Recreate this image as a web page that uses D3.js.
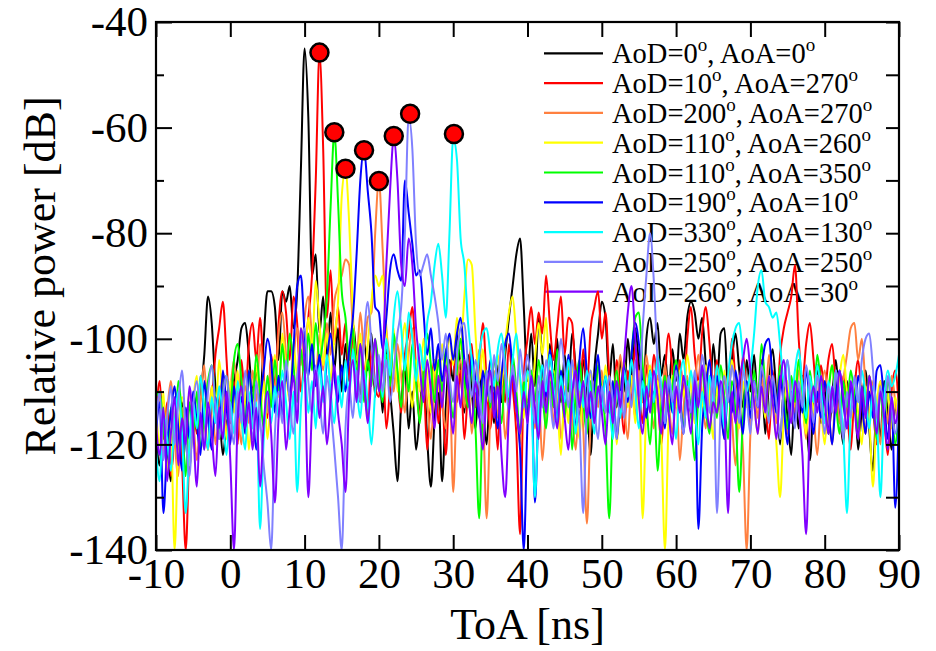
<!DOCTYPE html>
<html><head><meta charset="utf-8">
<script src="https://cdn.jsdelivr.net/npm/d3@7"></script>
<style>body{margin:0;background:#fff}svg{display:block}</style>
</head><body>
<svg id="chart" width="936" height="651"></svg>
<script>
// ---------- DATA ----------
const toaStart = -10, toaStep = 0.5;   // ToA sampling grid [ns]
const aodValues = [0, 10, 200, 110, 110, 190, 330, 250, 260];
const aoaValues = [0, 270, 270, 260, 350, 10, 130, 250, 30];
const seriesColors = ["#000000","#ff0000","#ff8040","#ffff00","#00ff00","#0000ff","#00ffff","#8080ff","#8000ff"];
const xTicks = [-10,0,10,20,30,40,50,60,70,80,90];
const yTicks = [-140,-120,-100,-80,-60,-40];
const yMinorTicks = [-130,-110,-90,-70,-50];

const pBlack = [
-118,-124,-113,-120,-127,-116,-121,-112,-119,-125,-115,-117,-111,-103,-92,-97,-109,-113,-122,-116,
-114,-108,-104,-98,-97,-103,-110,-106,-112,-100,-91,-91,-94,-104,-91,-93,-90,-98,-91,-68,
-45,-58,-88,-84,-99,-92,-104,-95,-106,-98,-110,-101,-108,-97,-104,-112,-100,-106,-99,-111,
-104,-114,-102,-110,-118,-127,-112,-105,-117,-110,-121,-114,-106,-119,-128,-115,-109,-127,-113,-104,
-108,-99,-106,-114,-103,-110,-117,-107,-113,-120,-109,-116,-105,-112,-103,-96,-90,-84,-81,-94,
-108,-99,-109,-96,-104,-113,-101,-108,-100,-112,-103,-110,-99,-106,-116,-104,-111,-122,-106,-99,
-93,-96,-108,-101,-113,-104,-110,-100,-107,-98,-105,-112,-100,-96,-101,-97,-107,-103,-110,-102,
-108,-99,-104,-96,-93,-95,-100,-96,-105,-112,-101,-108,-99,-98,-110,-104,-99,-106,-113,-104,
-110,-103,-112,-106,-118,-108,-102,-111,-120,-109,-115,-122,-110,-117,-107,-114,-123,-112,-105,-116,
-109,-118,-111,-104,-113,-120,-108,-115,-110,-121,-113,-106,-117,-125,-112,-119,-108,-114,-121,-113,
-116];
const pRed = [
-115,-108,-119,-112,-126,-117,-110,-123,-140,-121,-113,-118,-107,-115,-121,-112,-103,-98,-93,-104,
-116,-108,-120,-104,-112,-101,-97,-104,-96,-107,-115,-103,-109,-97,-91,-95,-104,-92,-97,-110,
-103,-96,-88,-70,-46,-64,-96,-87,-101,-94,-103,-97,-108,-99,-110,-101,-106,-115,-102,-109,
-111,-104,-117,-109,-100,-107,-114,-103,-99,-94,-106,-115,-108,-121,-110,-104,-116,-111,-122,-108,
-103,-112,-106,-119,-109,-101,-113,-105,-97,-108,-117,-110,-121,-106,-112,-101,-109,-118,-137,-107,
-100,-94,-101,-95,-99,-88,-97,-104,-98,-92,-103,-96,-97,-108,-112,-102,-109,-98,-94,-91,
-100,-95,-107,-114,-104,-110,-118,-106,-112,-101,-109,-116,-105,-111,-103,-110,-120,-107,-99,-106,
-113,-104,-110,-100,-94,-103,-108,-99,-94,-101,-110,-104,-115,-107,-112,-100,-108,-114,-103,-110,
-117,-108,-113,-104,-111,-119,-106,-113,-103,-98,-95,-92,-86,-100,-108,-101,-97,-104,-112,-105,
-110,-104,-101,-109,-116,-107,-113,-121,-110,-104,-112,-118,-107,-113,-120,-108,-115,-122,-110,-106,
-114];
const pOrange = [
-117,-111,-122,-114,-108,-119,-126,-113,-118,-110,-115,-123,-112,-105,-116,-109,-120,-113,-107,-118,
-110,-104,-113,-120,-109,-116,-106,-112,-101,-108,-114,-104,-110,-99,-95,-103,-112,-104,-98,-105,
-96,-92,-100,-108,-99,-106,-97,-103,-93,-90,-88,-85,-86,-98,-104,-95,-102,-96,-95,-80,
-70,-83,-98,-104,-110,-101,-107,-114,-103,-98,-108,-115,-106,-112,-119,-108,-102,-111,-117,-107,
-129,-110,-104,-113,-107,-118,-109,-102,-112,-134,-114,-106,-115,-108,-119,-111,-104,-113,-120,-110,
-112,-106,-117,-110,-123,-113,-107,-116,-108,-119,-112,-105,-114,-121,-110,-117,-135,-115,-108,-113,
-106,-114,-109,-118,-110,-103,-112,-119,-108,-115,-106,-112,-103,-110,-117,-107,-113,-105,-112,-118,
-110,-123,-113,-107,-115,-109,-103,-111,-117,-108,-114,-106,-112,-119,-109,-115,-124,-113,-121,-140,
-118,-109,-115,-107,-112,-103,-110,-116,-105,-112,-118,-108,-114,-106,-111,-119,-108,-114,-122,-111,
-106,-113,-120,-110,-116,-108,-103,-98,-97,-104,-100,-109,-115,-108,-113,-120,-110,-116,-107,-112,
-118];
const pYellow = [
-113,-120,-110,-126,-117,-140,-119,-111,-116,-124,-112,-107,-118,-113,-121,-109,-115,-104,-112,-119,
-108,-114,-106,-117,-110,-121,-112,-105,-115,-108,-119,-110,-103,-111,-99,-106,-112,-101,-107,-98,
-104,-96,-102,-89,-97,-105,-99,-108,-100,-93,-73,-68,-78,-95,-106,-99,-108,-101,-93,-88,
-90,-88,-99,-106,-98,-110,-103,-97,-106,-113,-104,-110,-100,-107,-114,-104,-110,-101,-107,-99,
-105,-96,-102,-92,-85,-86,-99,-108,-102,-112,-104,-110,-103,-109,-101,-95,-92,-100,-108,-115,
-106,-113,-104,-97,-103,-96,-108,-106,-112,-122,-109,-116,-105,-112,-119,-108,-113,-106,-111,-104,
-112,-105,-114,-108,-120,-111,-104,-113,-107,-116,-110,-134,-112,-105,-114,-108,-118,-140,-115,-107,
-113,-106,-111,-103,-109,-116,-108,-113,-105,-111,-119,-109,-115,-106,-112,-104,-110,-117,-108,-113,
-106,-112,-118,-109,-115,-107,-111,-120,-130,-114,-108,-115,-110,-104,-112,-118,-109,-114,-107,-113,
-120,-110,-105,-112,-107,-103,-110,-116,-108,-114,-120,-109,-115,-128,-113,-108,-116,-110,-117,-111,
-119];
const pGreen = [
-111,-110,-117,-122,-113,-119,-108,-115,-126,-112,-118,-110,-121,-114,-108,-105,-112,-119,-110,-107,
-113,-104,-101,-108,-116,-106,-112,-103,-110,-117,-107,-113,-104,-110,-101,-108,-99,-105,-112,-102,
-108,-99,-106,-97,-104,-100,-92,-75,-61,-74,-91,-96,-104,-98,-107,-101,-112,-104,-109,-100,
-106,-112,-103,-109,-99,-106,-113,-104,-110,-101,-108,-116,-107,-99,-105,-112,-104,-110,-102,-109,
-115,-106,-100,-108,-113,-105,-117,-134,-112,-106,-113,-104,-109,-116,-107,-112,-103,-110,-118,-108,
-114,-106,-112,-104,-110,-117,-108,-113,-102,-109,-115,-106,-121,-110,-104,-112,-118,-108,-114,-105,
-110,-117,-134,-114,-106,-112,-105,-111,-103,-96,-95,-105,-112,-120,-110,-125,-113,-107,-114,-109,
-104,-111,-117,-108,-114,-123,-111,-106,-113,-118,-109,-115,-105,-111,-119,-108,-114,-129,-115,-108,
-113,-106,-112,-101,-109,-115,-108,-114,-105,-111,-117,-107,-112,-104,-110,-116,-106,-112,-103,-109,
-115,-110,-105,-112,-118,-108,-113,-106,-111,-117,-109,-114,-107,-112,-119,-110,-116,-108,-113,-120,
-111];
const pBlue = [
-118,-112,-133,-120,-114,-109,-117,-125,-113,-119,-110,-116,-122,-108,-115,-121,-111,-117,-106,-113,
-120,-109,-115,-111,-118,-106,-113,-121,-112,-106,-100,-104,-114,-107,-115,-106,-111,-102,-90,-88,
-99,-107,-101,-109,-103,-111,-104,-99,-107,-112,-105,-110,-102,-96,-84,-70,-64,-72,-80,-94,
-95,-102,-96,-87,-84,-87,-89,-70,-76,-82,-88,-87,-95,-103,-98,-106,-101,-108,-103,-99,
-104,-99,-96,-104,-110,-103,-108,-115,-106,-111,-104,-109,-117,-107,-101,-99,-106,-113,-121,-140,
-116,-108,-131,-113,-105,-111,-102,-109,-115,-106,-112,-103,-110,-117,-104,-98,-107,-115,-109,-103,
-112,-107,-114,-108,-119,-111,-105,-112,-103,-97,-101,-109,-115,-106,-112,-104,-110,-117,-108,-114,
-105,-111,-118,-109,-114,-107,-136,-117,-110,-104,-112,-107,-113,-119,-109,-114,-106,-112,-118,-108,
-115,-108,-113,-106,-101,-100,-108,-114,-107,-113,-120,-110,-116,-109,-114,-106,-112,-118,-110,-115,
-108,-113,-120,-111,-106,-112,-117,-109,-114,-107,-112,-118,-110,-115,-106,-105,-112,-119,-111,-132,
-113];
const pCyan = [
-121,-127,-114,-119,-125,-116,-110,-118,-133,-120,-112,-117,-107,-114,-121,-111,-116,-109,-115,-122,
-112,-118,-108,-115,-121,-110,-117,-112,-136,-119,-110,-116,-109,-115,-106,-112,-119,-110,-129,-113,
-106,-114,-108,-117,-105,-112,-103,-110,-116,-107,-113,-104,-111,-102,-109,-115,-106,-112,-120,-110,
-104,-111,-100,-107,-96,-91,-98,-106,-95,-100,-108,-101,-106,-97,-93,-86,-82,-88,-96,-80,
-62,-66,-81,-86,-97,-104,-110,-103,-99,-98,-103,-109,-102,-99,-105,-111,-104,-99,-107,-113,
-106,-111,-130,-113,-105,-110,-103,-109,-116,-107,-112,-104,-110,-118,-108,-113,-106,-111,-118,-109,
-114,-107,-112,-119,-109,-115,-106,-111,-104,-110,-117,-108,-113,-106,-112,-103,-109,-116,-107,-112,
-119,-108,-104,-111,-106,-113,-120,-110,-115,-107,-112,-105,-110,-117,-107,-101,-98,-97,-104,-110,
-106,-99,-90,-87,-93,-94,-96,-95,-101,-108,-104,-112,-106,-102,-109,-115,-107,-112,-105,-110,
-116,-108,-113,-106,-111,-118,-133,-114,-108,-112,-106,-111,-117,-109,-114,-130,-112,-106,-109,-107,
-103];
const pLavender = [
-117,-110,-123,-115,-109,-120,-112,-106,-118,-126,-113,-108,-116,-121,-110,-105,-113,-119,-111,-107,
-114,-120,-110,-116,-106,-113,-119,-108,-115,-124,-131,-140,-118,-110,-116,-104,-112,-118,-107,-101,
-98,-108,-114,-105,-111,-118,-107,-113,-121,-130,-140,-117,-109,-115,-106,-112,-100,-93,-101,-109,
-103,-110,-104,-112,-106,-99,-94,-80,-58,-64,-82,-88,-86,-84,-88,-92,-97,-104,-99,-107,
-112,-103,-98,-97,-105,-111,-104,-109,-116,-106,-112,-103,-108,-101,-107,-114,-105,-110,-102,-108,
-103,-109,-116,-107,-113,-104,-110,-117,-108,-100,-106,-113,-104,-110,-116,-133,-112,-106,-113,-119,
-109,-114,-107,-112,-119,-110,-115,-108,-113,-104,-111,-98,-88,-80,-89,-104,-110,-116,-107,-112,
-106,-112,-118,-109,-114,-106,-111,-103,-108,-114,-107,-133,-113,-107,-112,-105,-110,-116,-106,-111,
-118,-108,-113,-105,-110,-116,-107,-112,-119,-109,-104,-111,-117,-108,-113,-105,-110,-116,-107,-112,
-118,-109,-114,-106,-112,-119,-110,-115,-107,-112,-104,-100,-99,-106,-115,-109,-114,-107,-113,-118,
-110];
const pPurple = [
-116,-122,-113,-127,-118,-111,-124,-115,-120,-109,-117,-128,-114,-121,-112,-118,-126,-113,-119,-110,
-123,-140,-115,-109,-117,-112,-121,-113,-128,-116,-110,-118,-131,-115,-108,-121,-113,-107,-116,-98,
-105,-130,-113,-106,-115,-109,-120,-112,-105,-114,-120,-129,-111,-104,-112,-101,-108,-116,-107,-100,
-110,-104,-86,-72,-62,-70,-86,-90,-81,-86,-98,-105,-112,-104,-110,-117,-107,-113,-105,-111,
-118,-107,-113,-104,-110,-116,-108,-114,-121,-110,-106,-115,-109,-122,-130,-114,-107,-113,-118,-110,
-116,-107,-113,-119,-108,-114,-106,-111,-117,-109,-115,-121,-111,-106,-113,-108,-115,-110,-116,-109,
-114,-120,-110,-116,-108,-113,-104,-95,-90,-100,-112,-118,-109,-114,-106,-111,-118,-108,-114,-120,
-109,-114,-107,-112,-118,-108,-113,-105,-111,-117,-112,-114,-108,-113,-133,-110,-116,-108,-104,-100,
-106,-112,-118,-109,-114,-107,-112,-119,-109,-104,-111,-116,-108,-113,-122,-137,-116,-109,-114,-107,
-112,-118,-109,-114,-106,-111,-117,-108,-113,-119,-109,-115,-107,-112,-118,-110,-115,-121,-111,-116,
-112];
const seriesPower = [pBlack,pRed,pOrange,pYellow,pGreen,pBlue,pCyan,pLavender,pPurple];

// marked peaks (red circles)
const peakToA   = [12, 14, 15.5, 18, 20, 22, 24.2, 30.1];
const peakPower = [-45.8, -60.9, -67.8, -64.3, -70.1, -61.6, -57.4, -61.2];

// ---------- CHART ----------
const svg = d3.select("#chart");
const L = 156, R = 899, T = 22, B = 550;
const FONT = "'Liberation Serif','Times New Roman',Times,serif";
const x = d3.scaleLinear().domain([-10, 90]).range([L, R]);
const y = d3.scaleLinear().domain([-140, -40]).range([B, T]);
const fmt = d => String(d);   // plain hyphen-minus, as in the reference

svg.append("defs").append("clipPath").attr("id","clip")
  .append("rect").attr("x",L).attr("y",T).attr("width",R-L).attr("height",B-T);

// legend (drawn under the curves)
const leg = svg.append("g");
const legY0 = 53.3, legDy = 29.8;
aodValues.forEach((aod, i) => {
  const yy = legY0 + i*legDy;
  leg.append("line").attr("x1",544).attr("x2",603).attr("y1",yy).attr("y2",yy)
    .attr("stroke",seriesColors[i]).attr("stroke-width",2.2);
  const t = leg.append("text").attr("x",612).attr("y",yy+10)
    .attr("font-family",FONT).attr("font-size",28.5).attr("fill","#000");
  t.append("tspan").text("AoD=" + aod);
  t.append("tspan").attr("font-size",19).attr("dy",-12).text("o");
  t.append("tspan").attr("dy",12).text(", AoA=" + aoaValues[i]);
  t.append("tspan").attr("font-size",19).attr("dy",-12).text("o");
});

// curves
const line = d3.line()
  .x((d,i) => x(toaStart + i*toaStep))
  .y(d => y(d))
  .curve(d3.curveMonotoneX);
const curves = svg.append("g").attr("clip-path","url(#clip)");
seriesPower.forEach((vals, i) => {
  curves.append("path").datum(vals).attr("d", line)
    .attr("fill","none").attr("stroke",seriesColors[i]).attr("stroke-width",2)
    .attr("stroke-linejoin","round");
});

// markers
svg.append("g").selectAll("circle").data(peakToA).join("circle")
  .attr("cx", d => x(d)).attr("cy", (d,i) => y(peakPower[i]))
  .attr("r", 9).attr("fill","#ff0000").attr("stroke","#000").attr("stroke-width",2.5);

// axes
function styleAxis(g){
  g.select(".domain").remove();
  g.selectAll(".tick line").attr("stroke","#000").attr("stroke-width",2);
  g.selectAll("text").attr("font-family",FONT).attr("font-size",43).attr("fill","#000");
}
svg.append("g").attr("transform",`translate(0,${B})`)
  .call(d3.axisBottom(x).tickValues(xTicks).tickSize(-15).tickPadding(7).tickFormat(fmt))
  .call(styleAxis);
svg.append("g").attr("transform",`translate(0,${T})`)
  .call(d3.axisTop(x).tickValues(xTicks).tickSize(-15).tickFormat(""))
  .call(styleAxis);
svg.append("g").attr("transform",`translate(${L},0)`)
  .call(d3.axisLeft(y).tickValues(yTicks).tickSize(-16).tickPadding(8).tickFormat(fmt))
  .call(styleAxis);
svg.append("g").attr("transform",`translate(${L},0)`)
  .call(d3.axisLeft(y).tickValues(yMinorTicks).tickSize(-8).tickFormat(""))
  .call(styleAxis);
svg.append("g").attr("transform",`translate(${R},0)`)
  .call(d3.axisRight(y).tickValues(yTicks.concat(yMinorTicks)).tickSize(-13).tickFormat(""))
  .call(styleAxis);

// frame
svg.append("rect").attr("x",L).attr("y",T).attr("width",R-L).attr("height",B-T)
  .attr("fill","none").attr("stroke","#000").attr("stroke-width",2.2);

// axis titles
svg.append("text").attr("x",(L+R)/2).attr("y",639).attr("text-anchor","middle")
  .attr("font-family",FONT).attr("font-size",44).text("ToA [ns]");
svg.append("text").attr("transform","translate(55,276) rotate(-90)").attr("text-anchor","middle")
  .attr("font-family",FONT).attr("font-size",44).text("Relative power [dB]");
</script>
</body></html>
